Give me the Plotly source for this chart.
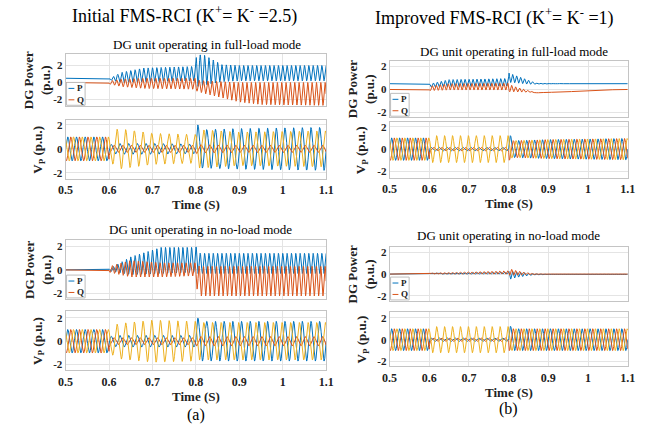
import numpy as np
import plotly.graph_objects as go

W, H = 666, 431
BLUE, ORANGE, YELLOW = '#0072BD', '#D95319', '#EDB120'
SERIF = 'Liberation Serif'

# ---------------- data (envelopes) ----------------
x_ticks = [0.5, 0.6, 0.7, 0.8, 0.9, 1.0, 1.1]
x_tick_labels = ['0.5', '0.6', '0.7', '0.8', '0.9', '1', '1.1']
y_ticks = [-2, 0, 2]
y_tick_labels = ['-2', '0', '2']
grid_freq = 50.0      # Hz, voltage
power_freq = 100.0    # Hz, double-frequency power ripple

# (a) Initial FMS-RCI, full-load : power envelopes
a_full_pow_t = [0.5, 0.6, 0.601, 0.63, 0.68, 0.8, 0.801, 0.82, 0.86, 0.9, 0.95, 1.1]
a_full_P_hi = [0.5, 0.5, 0.5, 1.2, 1.7, 1.9, 3.3, 3.2, 2.1, 2.0, 2.0, 2.0]
a_full_P_lo = [0.5, 0.5, 0.3, 0.0, 0.1, 0.2, -0.5, -0.3, 0.1, 0.2, 0.2, 0.2]
a_full_Q_hi = [0.0, 0.0, 0.2, 0.4, 0.5, 0.5, 0.3, 0.2, 0.1, 0.0, 0.0, 0.0]
a_full_Q_lo = [0.0, 0.0, -0.2, -0.5, -0.7, -0.8, -1.0, -1.3, -1.8, -2.3, -2.6, -2.7]
# (a) full-load : phase-voltage amplitudes
a_full_v_t = [0.5, 0.6, 0.601, 0.62, 0.7, 0.8, 0.801, 0.81, 0.9, 1.1]
a_full_Va = [1.0, 1.0, 0.35, 0.45, 0.45, 0.4, 2.3, 1.6, 1.7, 1.8]
a_full_Vb = [1.0, 1.0, 0.3, 0.3, 0.3, 0.3, 0.4, 0.35, 0.3, 0.3]
a_full_Vc = [1.0, 1.0, 1.0, 1.7, 1.3, 1.2, 1.6, 1.6, 1.4, 1.5]

# (a) Initial FMS-RCI, no-load : power envelopes
a_no_pow_t = [0.5, 0.6, 0.601, 0.65, 0.72, 0.8, 0.801, 0.81, 1.1]
a_no_P_hi = [0.0, 0.0, 0.1, 1.1, 1.9, 1.9, 2.1, 1.4, 1.4]
a_no_P_lo = [0.0, 0.0, -0.1, -0.4, -0.3, -0.2, -0.3, -0.3, -0.3]
a_no_Q_hi = [0.0, 0.0, 0.3, 0.8, 0.6, 0.6, 0.4, 0.3, 0.3]
a_no_Q_lo = [0.0, 0.0, -0.2, -0.6, -0.6, -0.5, -1.5, -2.2, -2.2]
# (a) no-load : phase-voltage amplitudes
a_no_v_t = [0.5, 0.6, 0.601, 0.62, 0.7, 0.8, 0.801, 0.81, 1.1]
a_no_Va = [1.0, 1.0, 0.4, 0.5, 0.5, 0.5, 2.2, 1.7, 1.7]
a_no_Vb = [1.0, 1.0, 0.3, 0.3, 0.3, 0.3, 0.4, 0.4, 0.4]
a_no_Vc = [1.0, 1.0, 1.0, 1.5, 1.8, 1.7, 1.6, 1.6, 1.6]

# (b) Improved FMS-RCI, full-load : power envelopes
b_full_pow_t = [0.5, 0.6, 0.601, 0.65, 0.8, 0.801, 0.81, 0.85, 0.87, 0.95, 1.02, 1.1]
b_full_P_hi = [0.5, 0.5, 0.5, 0.85, 0.95, 1.5, 1.3, 0.8, 0.55, 0.5, 0.5, 0.5]
b_full_P_lo = [0.5, 0.5, 0.2, 0.25, 0.3, 0.6, 0.6, 0.45, 0.45, 0.5, 0.5, 0.5]
b_full_Q_hi = [0.0, 0.0, 0.3, 0.5, 0.55, 0.5, 0.3, -0.1, -0.28, -0.2, -0.05, 0.0]
b_full_Q_lo = [0.0, 0.0, -0.1, -0.05, -0.05, -0.2, -0.2, -0.25, -0.3, -0.2, -0.05, 0.0]
# (b) full-load : phase-voltage amplitudes
b_full_v_t = [0.5, 0.6, 0.601, 0.8, 0.801, 0.81, 0.9, 1.1]
b_full_Va = [1.0, 1.0, 0.15, 0.15, 1.5, 0.75, 0.85, 0.95]
b_full_Vb = [1.0, 1.0, 0.15, 0.15, 1.0, 0.75, 0.85, 0.95]
b_full_Vc = [1.0, 1.0, 1.2, 1.2, 1.0, 0.75, 0.85, 0.95]

# (b) Improved FMS-RCI, no-load : power envelopes
b_no_pow_t = [0.5, 0.6, 0.601, 0.8, 0.801, 0.82, 0.86, 0.9, 1.1]
b_no_P_hi = [0.0, 0.0, 0.05, 0.2, 0.3, 0.2, 0.05, 0.0, 0.0]
b_no_P_lo = [0.0, 0.0, 0.0, 0.0, -0.5, -0.3, -0.1, -0.05, -0.05]
b_no_Q_hi = [0.0, 0.0, 0.1, 0.3, 0.5, 0.3, 0.05, 0.0, 0.0]
b_no_Q_lo = [0.0, 0.0, 0.0, 0.0, -0.1, -0.1, -0.05, 0.0, 0.0]
# (b) no-load : phase-voltage amplitudes
b_no_v_t = [0.5, 0.6, 0.601, 0.8, 0.801, 0.81, 1.1]
b_no_Va = [1.0, 1.0, 0.15, 0.15, 1.4, 1.0, 1.0]
b_no_Vb = [1.0, 1.0, 0.15, 0.15, 1.0, 1.0, 1.0]
b_no_Vc = [1.0, 1.0, 1.2, 1.2, 1.0, 1.0, 1.0]

t = np.arange(0.5, 1.1 + 1e-9, 0.0002)


def power_wave(tk, hi, lo, phase):
    h = np.interp(t, tk, hi)
    l = np.interp(t, tk, lo)
    return (h + l) / 2 + (h - l) / 2 * np.cos(2 * np.pi * power_freq * t + phase)


def volt_wave(tk, amp, phase):
    return np.interp(t, tk, amp) * np.sin(2 * np.pi * grid_freq * t + phase)


# ---------------- layout geometry (pixels) ----------------
def fx(px):
    return px / W


def fy(py):
    return 1 - py / H


def note(text, x, y, size, color='black', angle=0, xanchor='center'):
    return dict(text=text, x=fx(x), y=fy(y), xref='paper', yref='paper',
                xanchor=xanchor, yanchor='middle', showarrow=False, textangle=angle,
                font=dict(family=SERIF, size=size, color=color))


LX0, LX1 = 59, 326
RX0, RX1 = 391, 635
panels = [
    # name, x0, x1, ytop, ybot, yrange
    ('aP1', LX0, LX1, 52, 105, [-2.8, 3.4]),
    ('aV1', LX0, LX1, 119, 178, [-2.5, 2.4]),
    ('aP2', LX0, LX1, 240, 299, [-2.45, 2.5]),
    ('aV2', LX0, LX1, 311, 371, [-2.5, 2.6]),
    ('bP1', RX0, RX1, 59, 116, [-2.4, 2.5]),
    ('bV1', RX0, RX1, 121, 177, [-2.55, 2.4]),
    ('bP2', RX0, RX1, 247, 301, [-2.45, 2.45]),
    ('bV2', RX0, RX1, 312, 367, [-2.45, 2.55]),
]

fig = go.Figure()
layout = dict(width=W, height=H, margin=dict(l=0, r=0, t=0, b=0),
              paper_bgcolor='white', plot_bgcolor='white', showlegend=False,
              font=dict(family=SERIF))

power_sets = {
    'aP1': (a_full_pow_t, a_full_P_hi, a_full_P_lo, a_full_Q_hi, a_full_Q_lo),
    'aP2': (a_no_pow_t, a_no_P_hi, a_no_P_lo, a_no_Q_hi, a_no_Q_lo),
    'bP1': (b_full_pow_t, b_full_P_hi, b_full_P_lo, b_full_Q_hi, b_full_Q_lo),
    'bP2': (b_no_pow_t, b_no_P_hi, b_no_P_lo, b_no_Q_hi, b_no_Q_lo),
}
volt_sets = {
    'aV1': (a_full_v_t, a_full_Va, a_full_Vb, a_full_Vc),
    'aV2': (a_no_v_t, a_no_Va, a_no_Vb, a_no_Vc),
    'bV1': (b_full_v_t, b_full_Va, b_full_Vb, b_full_Vc),
    'bV2': (b_no_v_t, b_no_Va, b_no_Vb, b_no_Vc),
}

annotations = []
shapes = []

for i, (name, x0, x1, ytop, ybot, yr) in enumerate(panels, start=1):
    xa = 'xaxis' if i == 1 else f'xaxis{i}'
    ya = 'yaxis' if i == 1 else f'yaxis{i}'
    xr = 'x' if i == 1 else f'x{i}'
    yrr = 'y' if i == 1 else f'y{i}'
    is_volt = 'V' in name
    layout[xa] = dict(domain=[fx(x0), fx(x1)], anchor=yrr, range=[0.5, 1.1],
                      tickvals=x_ticks,
                      ticktext=[f'<b>{s}</b>' for s in x_tick_labels],
                      showticklabels=is_volt,
                      tickfont=dict(family=SERIF, size=12, color='#222'),
                      showgrid=True, gridcolor='#e4e4e4', gridwidth=1,
                      zeroline=False, showline=True, linecolor='#c4c4c4',
                      mirror=True, ticks='', ticklen=0)
    layout[ya] = dict(domain=[fy(ybot), fy(ytop)], anchor=xr, range=yr,
                      tickvals=y_ticks,
                      ticktext=[f'<b>{s}</b>' for s in y_tick_labels],
                      tickfont=dict(family=SERIF, size=11, color='#222'),
                      showgrid=True, gridcolor='#e4e4e4', gridwidth=1,
                      zeroline=False, showline=True, linecolor='#c4c4c4',
                      mirror=True, ticks='', ticklen=0)
    cy = (ytop + ybot) / 2
    if is_volt:
        tk, va, vb, vc = volt_sets[name]
        for amp, ph, col in ((va, 0.0, BLUE), (vb, -2 * np.pi / 3, ORANGE),
                             (vc, 2 * np.pi / 3, YELLOW)):
            fig.add_trace(go.Scatter(x=t, y=volt_wave(tk, amp, ph), mode='lines',
                                     line=dict(color=col, width=1), xaxis=xr, yaxis=yrr,
                                     hoverinfo='skip'))
        annotations.append(note('<b>V<sub>P</sub> (p.u.)</b>', x0 - 28, cy, 13,
                                '#222', -90))
        annotations.append(note('<b>Time (S)</b>', (x0 + x1) / 2, ybot + 26, 13, '#222'))
    else:
        tk, phi, plo, qhi, qlo = power_sets[name]
        fig.add_trace(go.Scatter(x=t, y=power_wave(tk, phi, plo, 0.0), mode='lines',
                                 line=dict(color=BLUE, width=1), xaxis=xr, yaxis=yrr,
                                 hoverinfo='skip'))
        fig.add_trace(go.Scatter(x=t, y=power_wave(tk, qhi, qlo, np.pi / 2), mode='lines',
                                 line=dict(color=ORANGE, width=1), xaxis=xr, yaxis=yrr,
                                 hoverinfo='skip'))
        annotations.append(note('<b>DG Power<br>(p.u.)</b>', x0 - 29, cy, 13,
                                '#222', -90))
        # mini legend box in lower-left corner
        bx0, bx1 = x0 + 1, x0 + 20
        by0, by1 = ybot - 24, ybot - 1
        shapes.append(dict(type='rect', xref='paper', yref='paper', x0=fx(bx0), x1=fx(bx1),
                           y0=fy(by1), y1=fy(by0), line=dict(color='#bdbdbd', width=1),
                           fillcolor='white', layer='above'))
        for k, (lab, col) in enumerate((('P', BLUE), ('Q', ORANGE))):
            ly = by0 + 6 + k * 11.5
            shapes.append(dict(type='line', xref='paper', yref='paper', x0=fx(bx0 + 2),
                               x1=fx(bx0 + 8), y0=fy(ly), y1=fy(ly),
                               line=dict(color=col, width=1), layer='above'))
            annotations.append(note(f'<b>{lab}</b>', bx0 + 8.5, ly, 9, '#222',
                                    xanchor='left'))

# titles and subtitles
texts = [
    ('Initial FMS-RCI (K<sup>+</sup>= K<sup>-</sup> =2.5)', 181, 13, 18),
    ('Improved FMS-RCI (K<sup>+</sup>= K<sup>-</sup> =1)', 498, 15, 18),
    ('DG unit operating in full-load mode', 204, 43, 13),
    ('DG unit operating in no-load mode', 197, 229, 13),
    ('DG unit operating in full-load mode', 518, 50, 13),
    ('DG unit operating in no-load mode', 513, 235, 13),
    ('(a)', 193, 416, 16),
    ('(b)', 513, 410, 16),
]
for txt, x, y, s in texts:
    annotations.append(note(txt, x, y, s))

layout['annotations'] = annotations
layout['shapes'] = shapes
fig.update_layout(**layout)
fig.write_html('out.html')
